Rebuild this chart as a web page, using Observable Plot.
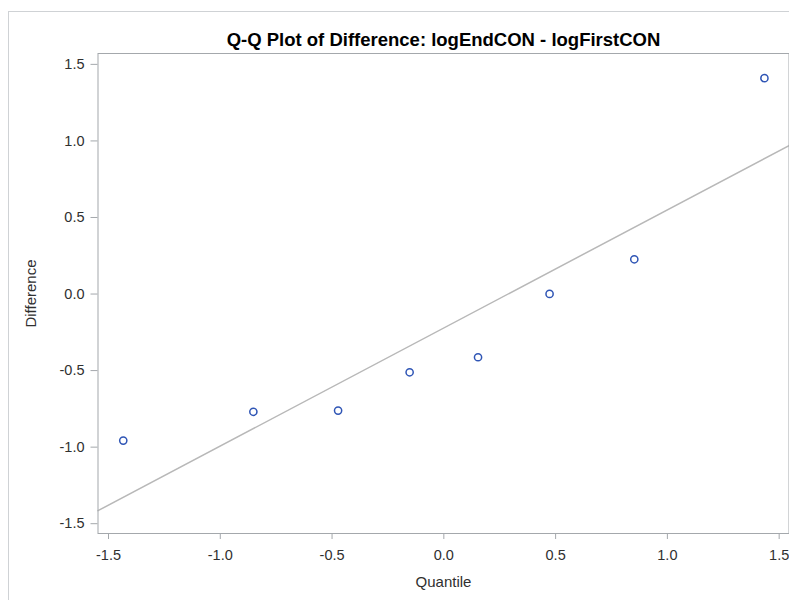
<!DOCTYPE html>
<html><head><meta charset="utf-8">
<script src="https://cdn.jsdelivr.net/npm/d3@7"></script>
<script src="https://cdn.jsdelivr.net/npm/@observablehq/plot@0.6"></script>
<style>
html,body{margin:0;padding:0;background:#fff;}
#wrap{position:relative;width:789px;height:600px;overflow:hidden;}
#border{position:absolute;left:8px;top:11px;width:1000px;height:1000px;border:1px solid #cfd2d5;box-sizing:border-box;}
#chart{position:absolute;left:0;top:0;}
</style></head><body><div id="wrap"><div id="border"></div><div id="chart"></div></div>
<script>
const title = "Q-Q Plot of Difference: logEndCON - logFirstCON";
const xLabel = "Quantile";
const yLabel = "Difference";
const quantiles = [-1.434, -0.852, -0.473, -0.153, 0.153, 0.473, 0.852, 1.434];
const differences = [-0.957, -0.769, -0.761, -0.511, -0.413, 0.001, 0.227, 1.410];
const xTicks = [-1.5, -1.0, -0.5, 0.0, 0.5, 1.0, 1.5];
const yTicks = [-1.5, -1.0, -0.5, 0.0, 0.5, 1.0, 1.5];
const xDomain = [-1.547, 1.544];
const yDomain = [-1.564, 1.571];

const points = quantiles.map((q, i) => ({q, d: differences[i]}));
const mu = d3.mean(differences), sigma = d3.deviation(differences);
const refLine = xDomain.map(q => ({q, d: mu + sigma * q}));
const fmt = d => d.toFixed(1);
const font = "Arial, 'Liberation Sans', sans-serif";

const chart = Plot.plot({
  width: 789, height: 600,
  marginLeft: 97.5, marginRight: 0.5, marginTop: 53, marginBottom: 67,
  style: {fontFamily: font, color: "#303030", background: "transparent", overflow: "visible"},
  x: {domain: xDomain},
  y: {domain: yDomain},
  marks: [
    Plot.axisX({ticks: xTicks, tickFormat: fmt, tickSize: 6, tickPadding: 10, stroke: "#a4a8ac", fill: "#303030", fontSize: 14.5, label: null}),
    Plot.axisY({ticks: yTicks, tickFormat: fmt, tickSize: 7, tickPadding: 6.5, stroke: "#a4a8ac", fill: "#303030", fontSize: 14.5, label: null}),
    Plot.line(refLine, {x: "q", y: "d", stroke: "#b8b8b8", strokeWidth: 1.5}),
    Plot.dot(points, {x: "q", y: "d", r: 3.6, stroke: "#2f55b5", strokeWidth: 1.5, fill: "none"}),
    Plot.frame({stroke: "#a4a8ac"}),
    Plot.text([title], {frameAnchor: "top", textAnchor: "middle", lineAnchor: "bottom", dy: -8, fontSize: 18.5, fontWeight: "bold", fill: "#000"}),
    Plot.text([xLabel], {frameAnchor: "bottom", textAnchor: "middle", lineAnchor: "bottom", dy: 53, fontSize: 15, fill: "#303030"}),
    Plot.text([yLabel], {frameAnchor: "left", textAnchor: "middle", lineAnchor: "bottom", rotate: -90, dx: -62, fontSize: 15, fill: "#303030"})
  ]
});
document.getElementById("chart").appendChild(chart);
</script></body></html>
